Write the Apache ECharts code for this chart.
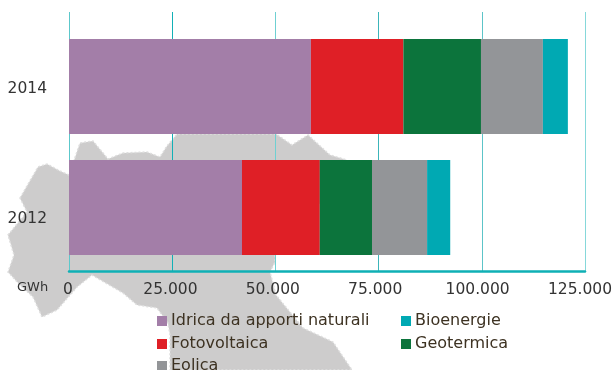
<!DOCTYPE html>
<html lang="it">
  <head>
    <meta charset="UTF-8" />
    <title>Produzione da fonti rinnovabili</title>
    <style>
      html, body { margin: 0; padding: 0; background: #fff; overflow: hidden; }
      #chart { width: 614px; height: 370px; }
    </style>
  </head>
  <body>
    <div id="chart"></div>

    <script src="https://cdn.jsdelivr.net/npm/echarts@6/dist/echarts.min.js"></script>
    <script>
      // dati (GWh), anni dal basso verso l'alto
      const years = ['2012', '2014'];
      const idrica = [41900, 58600];
      const fotovoltaica = [18850, 22400];
      const geotermica = [12650, 18800];
      const eolica = [13350, 15000];
      const bioenergie = [5600, 6050];

      const axisMax = 125000;
      const axisStep = 25000;

      // sagoma decorativa dell'Italia dietro il grafico
      const mapOutline = [
        [20, 198], [38, 167], [47, 164], [60, 171], [69, 175], [80, 143], [93, 141],
        [108, 159], [123, 153], [147, 152], [160, 157], [167, 146], [177, 134],
        [276, 134], [292, 145], [308, 135], [330, 155], [347, 160], [347, 175],
        [275, 250], [275, 262], [270, 272], [276, 295], [303, 328], [333, 342],
        [352, 370], [170, 370], [170, 335], [168, 323], [157, 308], [137, 305],
        [123, 293], [92, 275], [77, 287], [57, 310], [42, 317], [33, 297], [20, 285],
        [8, 272], [14, 255], [8, 235], [27, 212]
      ];

      const font = 'DejaVu Sans';

      function barSeries(name, data, color) {
        return {
          name: name,
          type: 'bar',
          stack: 'totale',
          xAxisIndex: 1,
          yAxisIndex: 1,
          barWidth: 95,
          data: data,
          itemStyle: { color: color },
          silent: true
        };
      }

      function legendColumn(left, top, names) {
        return {
          left: left,
          top: top,
          orient: 'vertical',
          padding: 0,
          itemWidth: 10,
          itemHeight: 10,
          itemGap: 5,
          icon: 'rect',
          selectedMode: false,
          data: names,
          textStyle: { fontFamily: font, fontSize: 16, color: '#3d3222', padding: [0, 0, 0, -1], lineHeight: 18 }
        };
      }

      const chart = echarts.init(document.getElementById('chart'), null, { renderer: 'canvas' });

      chart.setOption({
        animation: false,
        backgroundColor: '#fff',
        graphic: {
          elements: [
            {
              type: 'polygon',
              z: -10,
              silent: true,
              shape: { points: mapOutline },
              style: { fill: '#cdcccc', stroke: '#dedede', lineWidth: 1.5, lineDash: [2, 2] }
            },
            {
              type: 'text',
              left: 17,
              top: 281,
              silent: true,
              style: { text: 'GWh', fontFamily: font, fontSize: 13, fill: '#333' }
            }
          ]
        },
        legend: [
          legendColumn(157, 312, ['Idrica da apporti naturali', 'Fotovoltaica']),
          legendColumn(157, 357, ['Eolica']),
          legendColumn(401, 312, ['Bioenergie', 'Geotermica'])
        ],
        // griglia 0: linee verticali, griglia 1: barre, griglia 2: etichette
        grid: [
          { left: 69, width: 516, top: 12, height: 259, outerBoundsMode: 'none' },
          { left: 69, width: 516, top: 26, height: 242, outerBoundsMode: 'none' },
          { left: 68, width: 512, top: 24, height: 260, outerBoundsMode: 'none' }
        ],
        xAxis: [
          {
            gridIndex: 0,
            type: 'value',
            min: 0,
            max: axisMax,
            interval: axisStep,
            axisLine: { show: true, lineStyle: { color: '#0fb0b5', width: 2.5 } },
            axisTick: { show: false },
            axisLabel: { show: false },
            splitLine: {
              show: true,
              showMinLine: true,
              showMaxLine: true,
              lineStyle: { color: ['#5cc8cb', '#12b0b6', '#6fd0d2', '#3cb5ba', '#5cc4c8', '#86d8da'], width: 1 }
            }
          },
          {
            gridIndex: 1,
            type: 'value',
            min: 0,
            max: axisMax,
            show: false
          },
          {
            gridIndex: 2,
            type: 'value',
            min: 0,
            max: axisMax,
            interval: axisStep,
            axisLine: { show: false },
            axisTick: { show: false },
            splitLine: { show: false },
            axisLabel: {
              fontFamily: font,
              fontSize: 15.5,
              color: '#333',
              margin: -2,
              hideOverlap: false,
              showMinLabel: true,
              showMaxLabel: true,
              formatter: (v) => String(v).replace(/\B(?=(\d{3})+$)/g, '.')
            }
          }
        ],
        yAxis: [
          {
            gridIndex: 0,
            type: 'category',
            data: years,
            show: false
          },
          {
            gridIndex: 1,
            type: 'category',
            data: years,
            show: false
          },
          {
            gridIndex: 2,
            type: 'category',
            data: years,
            axisLine: { show: false },
            axisTick: { show: false },
            splitLine: { show: false },
            axisLabel: { fontFamily: font, fontSize: 15.5, color: '#333', margin: 21 }
          }
        ],
        series: [
          barSeries('Idrica da apporti naturali', idrica, '#a37ea8'),
          barSeries('Fotovoltaica', fotovoltaica, '#df1f26'),
          barSeries('Geotermica', geotermica, '#0c743c'),
          barSeries('Eolica', eolica, '#939598'),
          barSeries('Bioenergie', bioenergie, '#00a9b3')
        ]
      });
    </script>
  </body>
</html>
